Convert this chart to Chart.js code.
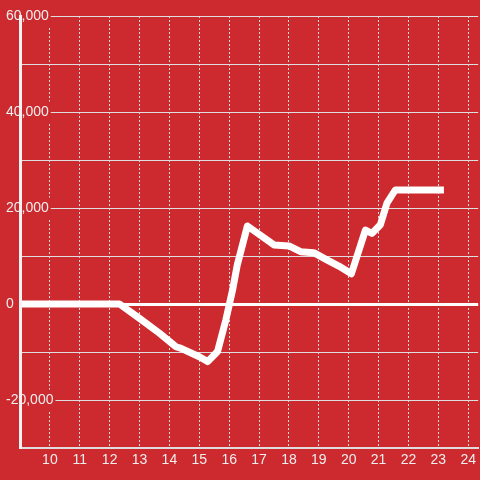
<!DOCTYPE html>
<html>
<head>
<meta charset="utf-8">
<script src="https://cdn.jsdelivr.net/npm/chart.js@4/dist/chart.umd.min.js"></script>
<style>
  html, body { margin: 0; padding: 0; background: #cc2a2f; }
  canvas { display: block; }
</style>
</head>
<body>
<canvas id="c" width="480" height="480"></canvas>
<script>
// Data
const xValues = [9, 12.33, 13.0, 13.67, 14.22, 14.39, 15.0, 15.28, 15.61, 15.89, 16.11, 16.27, 16.61, 17.5, 18.0, 18.39, 18.83, 19.27, 19.67, 20.09, 20.56, 20.78, 21.06, 21.28, 21.56, 23.07];
const yValues = [0, 0, -3000, -6100, -8900, -9230, -10980, -12000, -9900, -3300, 2800, 8100, 16250, 12300, 12100, 10900, 10700, 9200, 7900, 6300, 15400, 14700, 16500, 21000, 23750, 23750];
const xTickValues = [10, 11, 12, 13, 14, 15, 16, 17, 18, 19, 20, 21, 22, 23, 24];
const yLabelStep = 20000;

const BG = '#cc2a2f';
const points = xValues.map((x, i) => ({ x: x, y: yValues[i] }));

new Chart(document.getElementById('c'), {
  type: 'line',
  data: {
    datasets: [{
      data: points,
      borderColor: '#ffffff',
      borderWidth: 7,
      pointRadius: 0,
      tension: 0,
      fill: false,
      borderCapStyle: 'square',
      borderJoinStyle: 'round'
    }]
  },
  options: {
    responsive: false,
    animation: false,
    devicePixelRatio: 1,
    layout: { padding: { left: 5, top: 16, right: 0, bottom: 0 } },
    plugins: { legend: { display: false }, tooltip: { enabled: false } },
    scales: {
      x: {
        type: 'linear',
        min: 9,
        max: 24.333,
        afterBuildTicks: s => { s.ticks = xTickValues.map(v => ({ value: v })); },
        afterFit: s => { s.height = 32; },
        ticks: {
          color: '#eeeeee',
          font: { family: 'Liberation Sans, Arial, sans-serif', size: 14 },
          padding: 4,
          maxRotation: 0,
          autoSkip: false
        },
        grid: { color: '#dddddd', lineWidth: 1, drawTicks: false },
        border: { color: '#dddddd', width: 2, dash: [2, 2] }
      },
      y: {
        type: 'linear',
        min: -30000,
        max: 60000,
        afterFit: s => { s.width = 15; },
        ticks: {
          stepSize: 10000,
          mirror: true,
          crossAlign: 'near',
          padding: -14,
          color: '#eeeeee',
          font: { family: 'Liberation Sans, Arial, sans-serif', size: 14 },
          callback: v => (v % yLabelStep === 0 ? v.toLocaleString('en-US') : ''),
          showLabelBackdrop: ctx => !!(ctx.tick && ctx.tick.value % yLabelStep === 0),
          backdropColor: BG,
          backdropPadding: 2
        },
        grid: {
          color: ctx => (ctx.tick && ctx.tick.value === 0 ? '#ffffff' : '#dddddd'),
          lineWidth: ctx => (ctx.tick && ctx.tick.value === 0 ? 3 : 1),
          drawTicks: false
        },
        border: { color: '#f2f2f2', width: 3, z: 1 }
      }
    }
  }
});
</script>
</body>
</html>
